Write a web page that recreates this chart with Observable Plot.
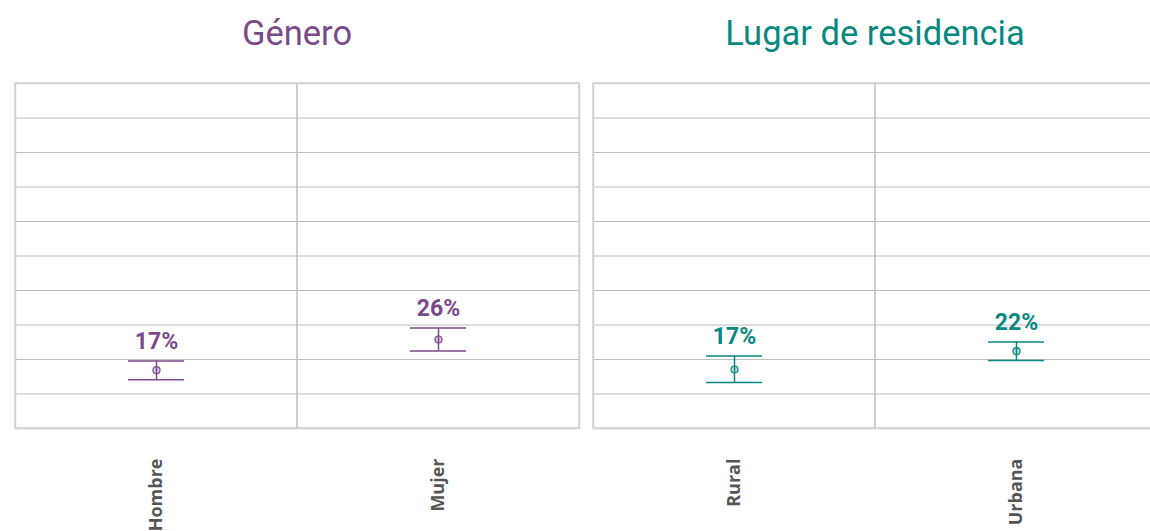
<!DOCTYPE html>
<html>
<head>
<meta charset="utf-8">
<script src="https://cdn.jsdelivr.net/npm/d3@7"></script>
<script src="https://cdn.jsdelivr.net/npm/@observablehq/plot@0.6"></script>
<style>
  html, body { margin: 0; padding: 0; background: #fff; overflow: hidden; width: 1150px; height: 531px; }
  #row { display: flex; flex-wrap: nowrap; width: 1172px; }
  .panel { width: 586px; flex: none; }
  .title { box-sizing: border-box; height: 66px; padding-top: 16px; line-height: 34px;
           font-family: Roboto, sans-serif; font-size: 34.5px; text-align: center; }
  svg { display: block; }
</style>
</head>
<body>
<div id="row"></div>
<script>
// ---- data ----
const yTicks = [0, 10, 20, 30, 40, 50, 60, 70, 80, 90, 100];

const generoTitle = "Género";
const generoCats = ["Hombre", "Mujer"];
const generoVal = [16.9, 25.8];
const generoLo = [14.1, 22.5];
const generoHi = [19.6, 29.1];

const residTitle = "Lugar de residencia";
const residCats = ["Rural", "Urbana"];
const residVal = [17.1, 22.4];
const residLo = [13.3, 19.7];
const residHi = [21.0, 25.1];

const purple = "#7a4a8a";
const teal = "#07897f";

function makePanel(title, cats, val, lo, hi, color, mLeft, mRight) {
  const rows = cats.map((c, i) => ({cat: c, val: val[i], lo: lo[i], hi: hi[i]}));
  const div = document.createElement("div");
  div.className = "panel";
  const t = document.createElement("div");
  t.className = "title";
  t.style.color = color;
  t.style.paddingLeft = mLeft + "px";
  t.style.paddingRight = mRight + "px";
  t.textContent = title;
  div.appendChild(t);
  const capInset = 113;
  const plot = Plot.plot({
    width: 586,
    height: 465,
    marginLeft: mLeft,
    marginRight: mRight,
    marginTop: 17,
    marginBottom: 103,
    style: {fontFamily: "Roboto, sans-serif", background: "#fff"},
    x: {domain: cats, padding: 0, axis: null},
    y: {domain: [0, 100], axis: null},
    marks: [
      Plot.gridY(yTicks, {stroke: "#bdbdbd", strokeOpacity: 1}),
      Plot.cell(cats, {x: d => d, fill: "none", stroke: "#bdbdbd"}),
      Plot.frame({stroke: "#d2d2d2", strokeWidth: 1.5}),
      Plot.axisX({tickRotate: -90, tickSize: 0, tickPadding: 30, fontSize: 18, fontWeight: "bold",
                  fill: "#555", fontFamily: "'Open Sans', sans-serif", label: null}),
      Plot.ruleX(rows, {x: "cat", y1: "lo", y2: "hi", stroke: color, strokeWidth: 1.5}),
      Plot.tickY(rows, {x: "cat", y: "lo", stroke: color, strokeWidth: 1.5, insetLeft: capInset, insetRight: capInset}),
      Plot.tickY(rows, {x: "cat", y: "hi", stroke: color, strokeWidth: 1.5, insetLeft: capInset, insetRight: capInset}),
      Plot.dot(rows, {x: "cat", y: "val", r: 3.5, stroke: color, fill: color, fillOpacity: 0.3, strokeWidth: 1.2}),
      Plot.text(rows, {x: "cat", y: "hi", text: d => `${Math.round(d.val)}%`, dy: -12, lineAnchor: "bottom",
                       fontSize: 23, fontWeight: "bold", fill: color})
    ]
  });
  div.appendChild(plot);
  return div;
}

const row = document.getElementById("row");
row.appendChild(makePanel(generoTitle, generoCats, generoVal, generoLo, generoHi, purple, 15, 7));
row.appendChild(makePanel(residTitle, residCats, residVal, residLo, residHi, teal, 7, 15));
</script>
</body>
</html>
